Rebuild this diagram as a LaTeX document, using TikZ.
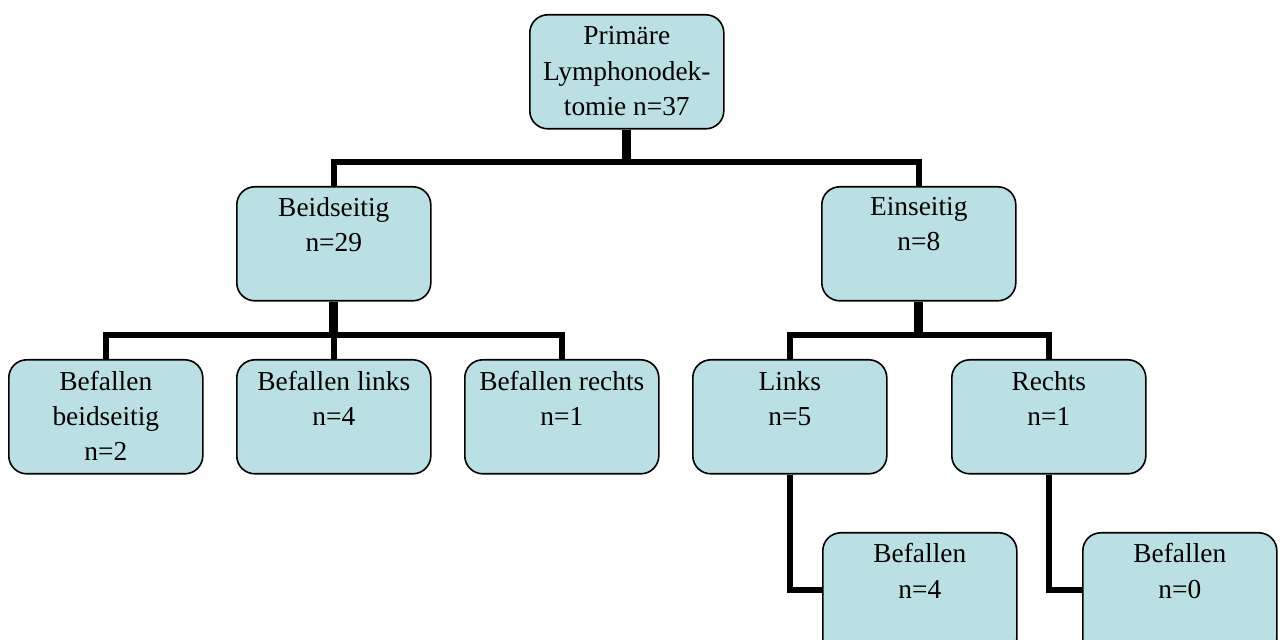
\documentclass[tikz,border=0pt]{standalone}
\usepackage{fontspec}
\setmainfont{Liberation Serif}
\definecolor{boxfill}{RGB}{187,224,227}
\begin{document}
\begin{tikzpicture}[x=0.5pt,y=-0.5pt,
  box/.style={draw=black, line width=0.8pt, fill=boxfill, rounded corners=9pt,
    minimum width=97pt, minimum height=57pt, inner sep=0pt, anchor=north west},
  lbl/.style={anchor=north, align=center, font=\fontsize{13.7}{17.6}\selectfont, inner sep=0pt, text=black},
  thick stem/.style={line width=4.5pt},
  thin stem/.style={line width=2.8pt}]
\useasboundingbox (0,0) rectangle (1280,640);
% boxes
\node[box] (root) at (529,14) {};
\node[box] (beid) at (236,186) {};
\node[box] (eins) at (821,186) {};
\node[box] (bb) at (8,359) {};
\node[box] (bl) at (236,359) {};
\node[box] (br) at (464,359) {};
\node[box] (li) at (692,359) {};
\node[box] (re) at (951,359) {};
\node[box, minimum height=62pt] (lib) at (822,532) {};
\node[box, minimum height=62pt] (reb) at (1082,532) {};
% labels
\node[lbl] (rootT) at ([yshift=-6.2pt]root.north) {Primäre\\Lymphonodek-\\tomie n=37};
\node[lbl] (beidT) at ([yshift=-5.6pt]beid.north) {Beidseitig\\n=29};
\node[lbl] (einsT) at ([yshift=-5.6pt]eins.north) {Einseitig\\n=8};
\node[lbl] (bbT) at ([yshift=-5.8pt]bb.north) {Befallen\\beidseitig\\n=2};
\node[lbl] (blT) at ([yshift=-5.8pt]bl.north) {Befallen links\\n=4};
\node[lbl] (brT) at ([yshift=-5.8pt]br.north) {Befallen rechts\\n=1};
\node[lbl] (liT) at ([yshift=-5.8pt]li.north) {Links\\n=5};
\node[lbl] (reT) at ([yshift=-5.8pt]re.north) {Rechts\\n=1};
\node[lbl] (libT) at ([yshift=-5.6pt]lib.north) {Befallen\\n=4};
\node[lbl] (rebT) at ([yshift=-5.6pt]reb.north) {Befallen\\n=0};
% connectors level 1
\coordinate (j1) at (root.south |- 0,162);
\draw[thick stem] (root.south) -- (j1);
\draw[thin stem] (beid.north) -- (beid.north |- j1) -- (eins.north |- j1) -- (eins.north);
% level 2 left
\coordinate (j2) at (beid.south |- 0,335);
\draw[thick stem] (beid.south) -- (j2);
\draw[thin stem] (bb.north) -- (bb.north |- j2) -- (br.north |- j2) -- (br.north);
\draw[thin stem] (j2) -- (bl.north);
% level 2 right
\coordinate (j3) at (eins.south |- 0,335);
\draw[thick stem] (eins.south) -- (j3);
\draw[thin stem] (li.north) -- (li.north |- j3) -- (re.north |- j3) -- (re.north);
% elbows
\draw[line width=3pt] (li.south) -- (li.south |- 0,590) -- (lib.west |- 0,590);
\draw[line width=3pt] (re.south) -- (re.south |- 0,590) -- (reb.west |- 0,590);
\end{tikzpicture}
\end{document}
